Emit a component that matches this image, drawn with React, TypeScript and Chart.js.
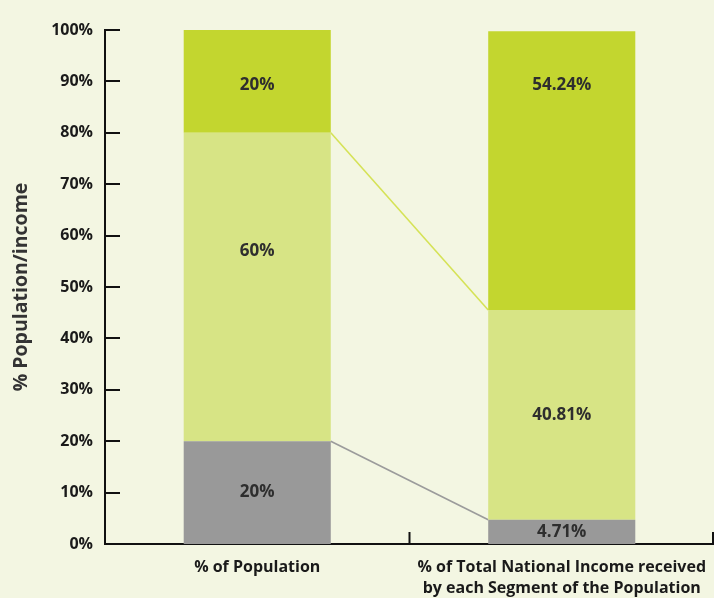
import React, { useEffect, useRef } from "react";
import { Chart, registerables } from "chart.js";

Chart.register(...registerables);

const categories = [
  "% of Population",
  ["% of Total National Income received", "by each Segment of the Population"],
];
const bottomSegment = [20, 4.71];
const middleSegment = [60, 40.81];
const topSegment = [20, 54.24];
const yTicks = [0, 10, 20, 30, 40, 50, 60, 70, 80, 90, 100];
// value (in % units) at which each segment's label is anchored
const labelAnchors = [
  [10, 2.35],
  [57, 25.1],
  [89.3, 89.3],
];

const BG = "#f3f6e2";
const FONT = "'Open Sans', 'DejaVu Sans', sans-serif";

const connectorPlugin = {
  id: "connectors",
  beforeDatasetsDraw(chart: any) {
    const ctx = chart.ctx;
    const pairs = [
      { ds: 0, color: "#9b9b9b" },
      { ds: 1, color: "#d5e256" },
    ];
    ctx.save();
    ctx.lineWidth = 1.6;
    pairs.forEach((p) => {
      const meta = chart.getDatasetMeta(p.ds);
      const a = meta.data[0] as any;
      const b = meta.data[1] as any;
      ctx.strokeStyle = p.color;
      ctx.beginPath();
      ctx.moveTo(a.x + a.width / 2, a.y);
      ctx.lineTo(b.x - b.width / 2, b.y);
      ctx.stroke();
    });
    ctx.restore();
  },
  afterDatasetsDraw(chart: any) {
    const ctx = chart.ctx;
    const ys = chart.scales.y;
    ctx.save();
    ctx.fillStyle = "#2e2e2e";
    ctx.font = `bold 17px ${FONT}`;
    ctx.textAlign = "center";
    ctx.textBaseline = "middle";
    chart.data.datasets.forEach((ds: any, di: number) => {
      const meta = chart.getDatasetMeta(di);
      ds.data.forEach((v: number, i: number) => {
        const el = meta.data[i] as any;
        ctx.fillText(`${v}%`, el.x, ys.getPixelForValue(labelAnchors[di][i]));
      });
    });
    ctx.restore();
  },
  afterDraw(chart: any) {
    const ctx = chart.ctx;
    const { left, bottom } = chart.chartArea;
    const ys = chart.scales.y;
    const xs = chart.scales.x;
    ctx.save();
    ctx.strokeStyle = "#111111";
    ctx.lineWidth = 2;
    ctx.beginPath();
    yTicks.forEach((t) => {
      const y = Math.round(ys.getPixelForValue(t));
      ctx.moveTo(left, y);
      ctx.lineTo(left + 15, y);
    });
    const n = categories.length;
    for (let i = 0; i < n; i++) {
      const c = xs.getPixelForValue(i);
      const next = i + 1 < n ? xs.getPixelForValue(i + 1) : c + (c - xs.getPixelForValue(i - 1));
      const bx = Math.min((c + next) / 2, chart.width - 1);
      ctx.moveTo(bx, bottom);
      ctx.lineTo(bx, bottom - 12);
    }
    ctx.stroke();
    ctx.restore();
  },
};

export default function App() {
  const ref = useRef<HTMLCanvasElement>(null);
  useEffect(() => {
    document.body.style.margin = "0";
    document.body.style.background = BG;
    const chart = new Chart(ref.current!, {
      type: "bar",
      data: {
        labels: categories as any,
        datasets: [
          { label: "Bottom", data: bottomSegment, backgroundColor: "#999999" },
          { label: "Middle", data: middleSegment, backgroundColor: "#d7e485" },
          { label: "Top", data: topSegment, backgroundColor: "#c3d62f" },
        ],
      },
      options: {
        animation: false,
        responsive: false,
        layout: { padding: { top: 30, right: 0, left: 0, bottom: 0 } },
        datasets: { bar: { barPercentage: 0.483, categoryPercentage: 1 } },
        plugins: { legend: { display: false }, tooltip: { enabled: false } },
        scales: {
          x: {
            stacked: true,
            grid: { display: false, drawTicks: false },
            border: { display: true, color: "#111111", width: 2 },
            ticks: {
              color: "#1a1a1a",
              font: { family: FONT, size: 16, weight: "bold", lineHeight: 1.32 },
              padding: 13,
              maxRotation: 0,
              autoSkip: false,
            },
            afterFit(scale: any) {
              scale.height = 54;
              scale.paddingLeft = 0;
              scale.paddingRight = 0;
            },
          },
          y: {
            stacked: true,
            min: 0,
            max: 100,
            grid: { display: false, drawTicks: false },
            border: { display: true, color: "#111111", width: 2 },
            ticks: {
              stepSize: 10,
              color: "#1a1a1a",
              font: { family: FONT, size: 16, weight: "bold" },
              padding: 12,
              callback: (v: any) => `${v}%`,
            },
            title: {
              display: true,
              text: "% Population/income",
              color: "#333333",
              font: { family: FONT, size: 19.5, weight: "bold" },
              padding: { top: 10, bottom: 0 },
            },
            afterFit(scale: any) {
              scale.width = 105;
              scale.paddingTop = 0;
              scale.paddingBottom = 0;
            },
          },
        },
      },
      plugins: [connectorPlugin],
    });
    return () => chart.destroy();
  }, []);
  return (
    <div style={{ width: 714, height: 598, background: BG }}>
      <canvas ref={ref} width={714} height={598} style={{ display: "block" }} />
    </div>
  );
}
